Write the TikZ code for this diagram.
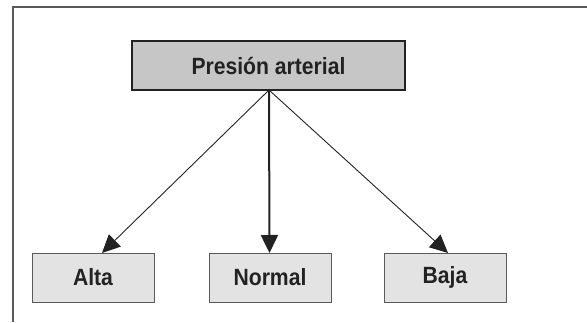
\documentclass[tikz,border=0pt]{standalone}
\usepackage{fontspec}
\usepackage{graphicx}
\setmainfont{Liberation Sans}
\usetikzlibrary{arrows.meta}
\definecolor{topfill}{HTML}{C6C6C6}
\definecolor{subfill}{HTML}{E3E3E3}
\definecolor{framecol}{HTML}{5A5A5A}
\definecolor{edgecol}{HTML}{222222}
\newcommand{\lbltext}[1]{\scalebox{0.9}[1]{#1}}
\tikzset{
  mainbox/.style={draw=edgecol, line width=2.4pt, fill=topfill, minimum width=273pt, minimum height=49pt, inner sep=0pt, font=\fontsize{23.5}{27}\selectfont\bfseries, text=edgecol},
  subbox/.style={draw=framecol, line width=1pt, fill=subfill, minimum width=122pt, minimum height=49pt, inner sep=0pt, font=\fontsize{23.5}{27}\selectfont\bfseries, text=edgecol},
  conn/.style={draw=edgecol, line width=0.9pt, -{Triangle[length=18pt,width=17pt]}},
  connthick/.style={draw=edgecol, line width=2pt, -{Triangle[length=18pt,width=17pt]}}
}
\begin{document}
\begin{tikzpicture}[x=1pt,y=-1pt]
\useasboundingbox (0,0) rectangle (587,322);
\draw[framecol, line width=2pt] (12.5,322) -- (12.5,7) -- (587,7);
\node[mainbox] (top) at (268.5,65.5) {\lbltext{Presión arterial}};
\node[subbox] (alta) at (93,277.5) {\lbltext{Alta}};
\node[subbox] (normal) at (270,277.5) {\lbltext{Normal}};
\node[subbox] (baja) at (445,277.5) {\lbltext{Baja}};
\coordinate (apex) at (269,90);
\coordinate (ta) at (102,253);
\coordinate (tn) at (269.5,253);
\coordinate (tb) at (448,253);
\draw[conn] (apex) -- (ta);
\draw[connthick] (apex) -- (tn);
\draw[conn] (apex) -- (tb);
\end{tikzpicture}
\end{document}
